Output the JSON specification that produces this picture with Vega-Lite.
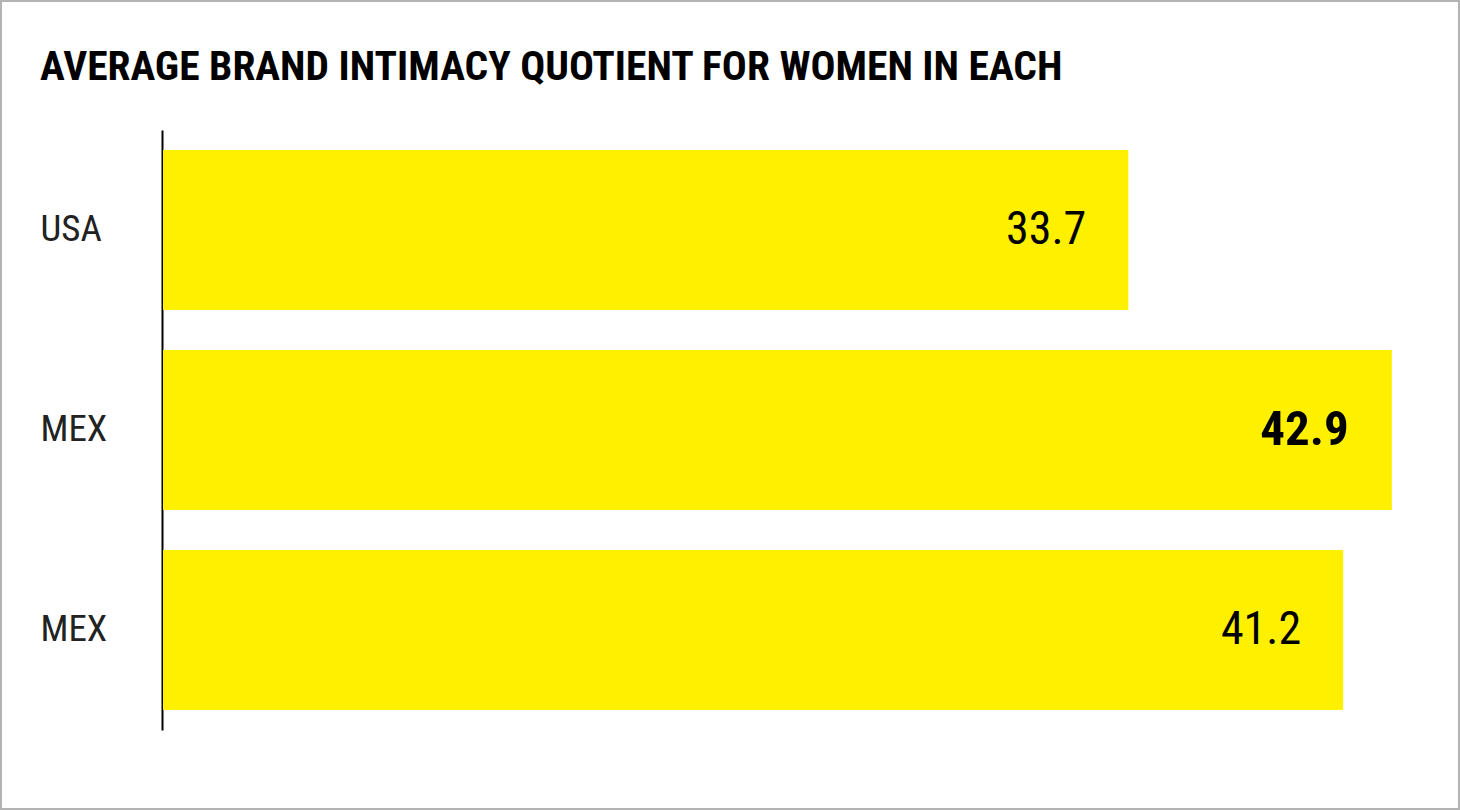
{
  "$schema": "https://vega.github.io/schema/vega-lite/v6.json",
  "width": 1460,
  "height": 810,
  "autosize": {"type": "none"},
  "padding": 0,
  "background": "white",
  "config": {
    "view": {"stroke": "#b3b3b3", "strokeWidth": 4},
    "font": "Liberation Sans Narrow, Roboto Condensed, DejaVu Sans Condensed, sans-serif"
  },
  "title": {
    "text": "AVERAGE BRAND INTIMACY QUOTIENT FOR WOMEN IN EACH",
    "anchor": "start",
    "frame": "group",
    "orient": "top",
    "offset": 0,
    "dx": 40,
    "dy": 121,
    "baseline": "alphabetic",
    "fontSize": 41.5,
    "fontWeight": "bold",
    "color": "#000000",
    "font": "Liberation Sans Narrow, Roboto Condensed, DejaVu Sans Condensed, sans-serif"
  },
  "data": {
    "values": [
      {"key": "USA-1", "country": "USA", "value": 33.7},
      {"key": "MEX-2", "country": "MEX", "value": 42.9},
      {"key": "MEX-3", "country": "MEX", "value": 41.2}
    ]
  },
  "transform": [
    {"joinaggregate": [{"op": "max", "field": "value", "as": "maxValue"}]}
  ],
  "encoding": {
    "y": {
      "field": "key",
      "type": "nominal",
      "sort": null,
      "scale": {"range": [130, 730], "paddingInner": 0.2, "paddingOuter": 0.1},
      "axis": {
        "orient": "left",
        "offset": -162,
        "title": null,
        "ticks": false,
        "domainColor": "#000000",
        "domainWidth": 2,
        "labelAlign": "left",
        "labelBaseline": "middle",
        "labelPadding": 122,
        "labelFontSize": 37,
        "labelColor": "#222222",
        "labelExpr": "split(datum.value, '-')[0]"
      }
    },
    "x": {
      "field": "value",
      "type": "quantitative",
      "scale": {"domain": [0, 45], "range": [163, 1452]},
      "axis": null
    }
  },
  "layer": [
    {"mark": {"type": "bar", "color": "#FFF000"}},
    {
      "transform": [{"filter": "datum.value !== datum.maxValue"}],
      "mark": {
        "type": "text",
        "align": "right",
        "baseline": "middle",
        "dx": -42,
        "fontSize": 46,
        "fontWeight": "normal",
        "color": "#000000"
      },
      "encoding": {
        "text": {"field": "value", "type": "quantitative", "format": ".1f"}
      }
    },
    {
      "transform": [{"filter": "datum.value === datum.maxValue"}],
      "mark": {
        "type": "text",
        "align": "right",
        "baseline": "middle",
        "dx": -43,
        "fontSize": 49,
        "fontWeight": "bold",
        "color": "#000000"
      },
      "encoding": {
        "text": {"field": "value", "type": "quantitative", "format": ".1f"}
      }
    }
  ]
}
